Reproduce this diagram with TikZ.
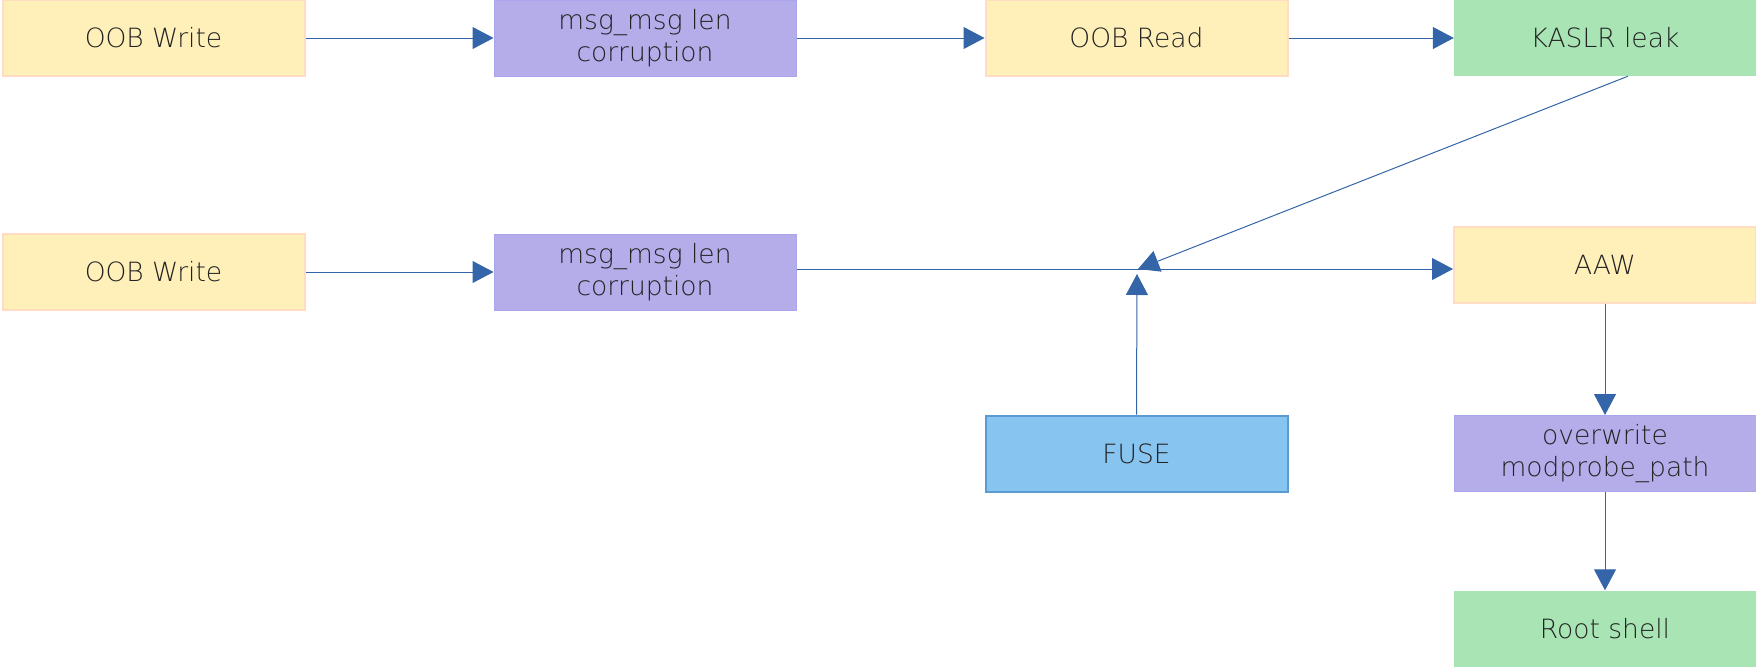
\documentclass[tikz,border=0pt]{standalone}
\usepackage{fontspec}
\newfontfamily\lightfont{DejaVu Sans ExtraLight}
\usetikzlibrary{arrows.meta}
\definecolor{yfill}{HTML}{FFF0BA}
\definecolor{ydraw}{HTML}{FFDCC2}
\definecolor{pfill}{HTML}{B5ACEA}
\definecolor{pdraw}{HTML}{A9A6EE}
\definecolor{gfill}{HTML}{A8E4B4}
\definecolor{bfill}{HTML}{88C4F0}
\definecolor{bdraw}{HTML}{5B9BD0}
\definecolor{arr}{HTML}{3465A8}
\definecolor{txt}{HTML}{222222}
\tikzset{
  box/.style={rectangle, minimum width=302pt, minimum height=76pt, inner sep=0pt,
    align=center, text=txt, font=\lightfont\fontsize{26.5}{32.5}\selectfont},
  ybox/.style={box, fill=yfill, draw=ydraw, line width=2pt},
  pbox/.style={box, fill=pfill, draw=pdraw, line width=1pt},
  gbox/.style={box, fill=gfill},
  bbox/.style={box, fill=bfill, draw=bdraw, line width=2pt},
  conn/.style={draw=arr, line width=1pt, -{Triangle[length=21pt,width=22pt,fill=arr]}},
}
\begin{document}
\begin{tikzpicture}[x=1pt,y=-1pt]
\useasboundingbox (0,0) rectangle (1756,667);
\node[ybox] (w1) at (153.5,38) {OOB Write};
\node[pbox] (m1) at (645,38) {msg\_msg len\\corruption};
\node[ybox] (r1) at (1136.5,38) {OOB Read};
\node[gbox] (k) at (1605,38) {KASLR leak};
\node[ybox] (w2) at (153.5,272) {OOB Write};
\node[pbox] (m2) at (645,272) {msg\_msg len\\corruption};
\node[ybox] (aaw) at (1605,264.5) {AAW};
\node[bbox] (fuse) at (1136.5,453.5) {FUSE};
\node[pbox] (ow) at (1605,453.5) {overwrite\\modprobe\_path};
\node[gbox] (root) at (1605,628.5) {Root shell};
\coordinate (j) at (1138,269);
\coordinate (jf) at (1137,274);
\draw[conn] (w1.east) -- (m1.west);
\draw[conn] (m1.east) -- (r1.west);
\draw[conn] (r1.east) -- (k.west);
\draw[conn] (w2.east) -- (m2.west);
\draw[conn] (m2.east |- j) -- (aaw.west |- j);
\draw[conn] ([xshift=23pt]k.south) -- (j);
\draw[conn] (fuse.north) -- (jf);
\draw[conn] (aaw.south) -- (ow.north);
\draw[conn] (ow.south) -- (root.north);
\end{tikzpicture}
\end{document}
